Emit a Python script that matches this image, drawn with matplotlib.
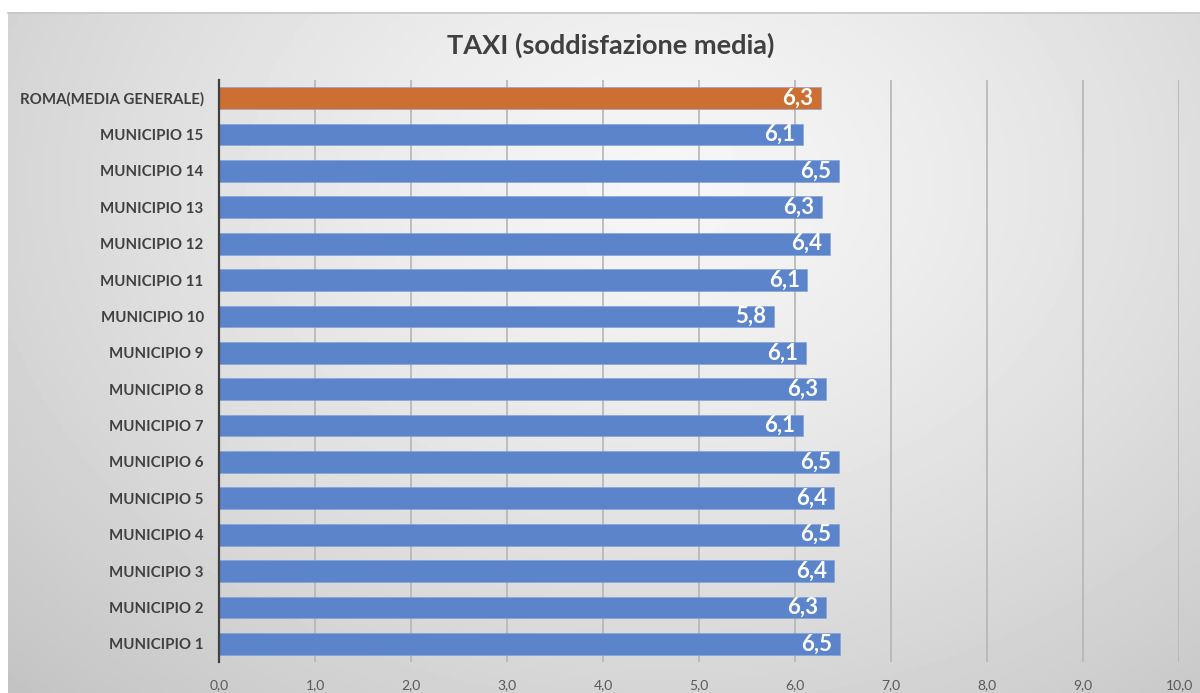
import numpy as np
import matplotlib
matplotlib.use("Agg")
import matplotlib.pyplot as plt

categories = ["MUNICIPIO 1", "MUNICIPIO 2", "MUNICIPIO 3", "MUNICIPIO 4", "MUNICIPIO 5",
              "MUNICIPIO 6", "MUNICIPIO 7", "MUNICIPIO 8", "MUNICIPIO 9", "MUNICIPIO 10",
              "MUNICIPIO 11", "MUNICIPIO 12", "MUNICIPIO 13", "MUNICIPIO 14", "MUNICIPIO 15",
              "ROMA(MEDIA GENERALE)"]
values = [6.47, 6.32, 6.41, 6.46, 6.41, 6.46, 6.08, 6.32, 6.11, 5.78,
          6.13, 6.36, 6.28, 6.46, 6.08, 6.27]
xticks = [0, 1, 2, 3, 4, 5, 6, 7, 8, 9, 10]
title = "TAXI (soddisfazione media)"

BLUE = "#5B84CB"
ORANGE = "#CD6E32"
FONT = ["Lato", "DejaVu Sans"]

fig = plt.figure(figsize=(12, 6.93), dpi=100)
fig.patch.set_facecolor("white")

# background gradient panel
bg = fig.add_axes([8 / 1200, 0, 1 - 8 / 1200, (693 - 12) / 693], zorder=0)
H, W = 200, 350
yy, xx = np.mgrid[0:H, 0:W]
cx, cy = 0.55 * W, 0.25 * H
d = np.sqrt(((xx - cx) / W) ** 2 + ((yy - cy) / H * 0.75) ** 2)
d = d / d.max()
img = 0.965 - 0.20 * d ** 1.3
bg.imshow(img, cmap="gray", vmin=0, vmax=1, aspect="auto", extent=[0, 1, 0, 1], origin="upper")
bg.set_xlim(0, 1); bg.set_ylim(0, 1)
bg.set_xticks([]); bg.set_yticks([])
for s in bg.spines.values():
    s.set_visible(False)
bg.plot([0, 1], [0.999, 0.999], color="#c8c8c8", lw=1.2, transform=bg.transAxes, clip_on=False)

ax = fig.add_axes([219 / 1200, 1 - 662 / 693, (1179 - 219) / 1200, (662 - 80) / 693], zorder=1)
ax.patch.set_alpha(0)

y = np.arange(len(categories))
colors = [BLUE] * (len(categories) - 1) + [ORANGE]
ax.barh(y, values, height=0.6, color=colors, zorder=3, edgecolor="#7fa0da", linewidth=0.4)

for yi, v in zip(y, values):
    ax.text(v - 0.08, yi, f"{v:.1f}".replace(".", ","), ha="right", va="center",
            color="white", fontsize=16, fontweight="bold", family=FONT, zorder=4)

ax.set_xlim(0, 10)
ax.set_ylim(-0.5, len(categories) - 0.5)
ax.set_xticks(xticks)
ax.set_xticklabels([f"{t:.1f}".replace(".", ",") for t in xticks], family=FONT,
                   fontsize=10, color="#595959")
ax.set_yticks(y)
ax.set_yticklabels(categories, family=FONT, fontsize=10.8, fontweight="bold", color="#404040")
ax.tick_params(axis="y", length=0, pad=11)
ax.tick_params(axis="x", length=0, pad=12)
ax.grid(axis="x", color="#b5b5b5", lw=1.2, zorder=1)
for k in ["top", "right", "bottom"]:
    ax.spines[k].set_visible(False)
ax.spines["left"].set_color("#404040")
ax.spines["left"].set_linewidth(1.6)
ax.spines["left"].set_zorder(5)

fig.text(611 / 1200, 1 - 45 / 693, title, ha="center", va="center", fontsize=19.5,
         fontweight="bold", color="#404040", family=FONT)

fig.savefig("out.png", dpi=100)
